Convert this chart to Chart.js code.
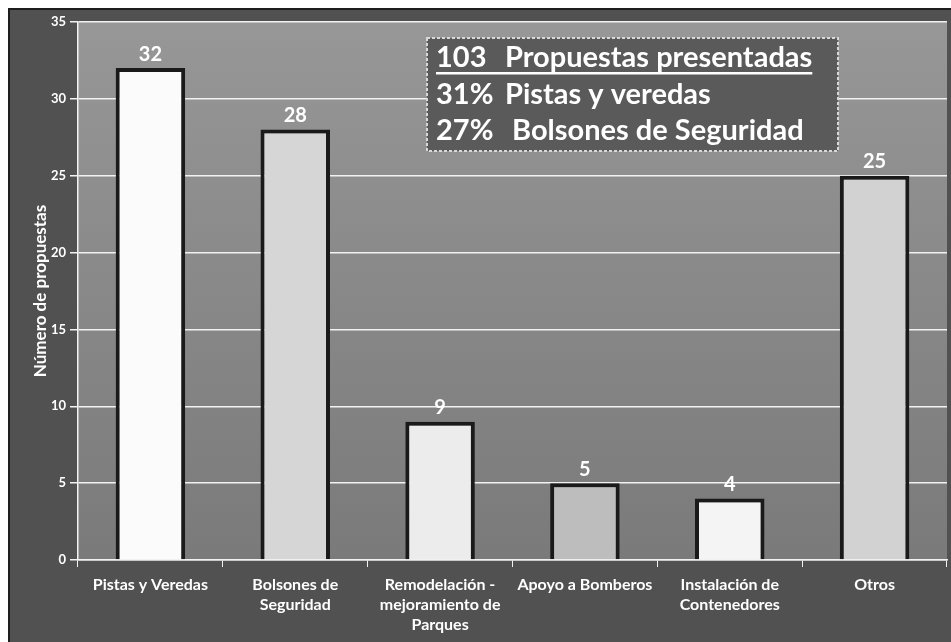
<!DOCTYPE html>
<html lang="es">
<head>
<meta charset="utf-8">
<title>Propuestas por categoría</title>
<script src="https://cdn.jsdelivr.net/npm/chart.js@4.4.1/dist/chart.umd.min.js"></script>
<style>
  html, body { margin: 0; padding: 0; background: #fff; }
  #wrap { width: 951px; height: 642px; position: relative; }
</style>
</head>
<body>
<div id="wrap"><canvas id="grafico"></canvas></div>
<script>
const categorias = [
  'Pistas y Veredas',
  ['Bolsones de', 'Seguridad'],
  ['Remodelación -', 'mejoramiento de', 'Parques'],
  'Apoyo a Bomberos',
  ['Instalación de', 'Contenedores'],
  'Otros'
];
const propuestas = [32, 28, 9, 5, 4, 25];
const coloresBarras = ['#fbfbfb', '#d6d6d6', '#ececec', '#bdbdbd', '#f4f4f4', '#d2d2d2'];
const resumen = [
  ['103', 'Propuestas presentadas'],
  ['31%', 'Pistas y veredas'],
  ['27%', ' Bolsones de Seguridad']
];

const fuente = 'Lato, "Open Sans", sans-serif';

// fondo oscuro exterior y degradado gris del área de trazado
const fondo = {
  id: 'fondo',
  beforeDraw(chart) {
    const { ctx, chartArea: a } = chart;
    ctx.save();
    ctx.fillStyle = '#ffffff';
    ctx.fillRect(0, 0, chart.width, chart.height);
    ctx.fillStyle = '#1e1e1e';
    ctx.fillRect(8, 8, chart.width - 8, chart.height - 8);
    ctx.fillStyle = '#515151';
    ctx.fillRect(10, 10, chart.width - 10, chart.height - 10);
    const g = ctx.createLinearGradient(0, a.top, 0, a.bottom);
    g.addColorStop(0, '#979797');
    g.addColorStop(1, '#7a7a7a');
    ctx.fillStyle = g;
    ctx.fillRect(a.left, a.top, a.right - a.left, a.bottom - a.top);
    ctx.restore();
  }
};

// números sobre cada barra
const etiquetas = {
  id: 'etiquetas',
  afterDatasetsDraw(chart) {
    const { ctx } = chart;
    const meta = chart.getDatasetMeta(0);
    ctx.save();
    ctx.fillStyle = '#ffffff';
    ctx.font = 'bold 20px ' + fuente;
    ctx.textAlign = 'center';
    ctx.textBaseline = 'bottom';
    meta.data.forEach((bar, i) => {
      ctx.fillText(String(propuestas[i]), bar.x, bar.y - 4);
    });
    ctx.restore();
  }
};

// recuadro con el resumen
const recuadro = {
  id: 'recuadro',
  afterDraw(chart) {
    const { ctx } = chart;
    const x = 427, y = 38, w = 411, h = 113;
    ctx.save();
    ctx.fillStyle = '#5a5a5a';
    ctx.fillRect(x, y, w, h);
    ctx.strokeStyle = '#d8d8d8';
    ctx.lineWidth = 2;
    ctx.setLineDash([3, 2]);
    ctx.strokeRect(x, y, w, h);
    ctx.setLineDash([]);
    ctx.fillStyle = '#ffffff';
    ctx.font = 'bold 29px ' + fuente;
    ctx.textBaseline = 'alphabetic';
    const lineas = [67, 104, 140];
    resumen.forEach((fila, i) => {
      ctx.fillText(fila[0], 436, lineas[i]);
      ctx.fillText(fila[1], 505, lineas[i]);
    });
    const fin = 505 + ctx.measureText(resumen[0][1]).width;
    ctx.fillRect(436, 72, fin - 436, 2.5);
    ctx.restore();
  }
};

new Chart(document.getElementById('grafico'), {
  type: 'bar',
  data: {
    labels: categorias,
    datasets: [{
      data: propuestas,
      backgroundColor: coloresBarras,
      borderColor: '#1a1a1a',
      borderWidth: 4,
      borderSkipped: 'bottom',
      categoryPercentage: 1,
      barPercentage: 0.48
    }]
  },
  options: {
    responsive: true,
    maintainAspectRatio: false,
    animation: false,
    layout: { padding: { left: 30, top: 22, right: 4, bottom: 0 } },
    plugins: {
      legend: { display: false },
      tooltip: { enabled: false }
    },
    scales: {
      y: {
        min: 0,
        max: 35,
        ticks: {
          stepSize: 5,
          color: '#ffffff',
          font: { family: fuente, size: 13, weight: 'bold' },
          padding: 4
        },
        grid: { color: '#f2f2f2', lineWidth: 1.5, tickLength: 8, tickColor: '#f2f2f2' },
        border: { color: '#f2f2f2', width: 1.5 },
        title: {
          display: true,
          text: 'Número de propuestas',
          color: '#ffffff',
          font: { family: fuente, size: 17, weight: 'bold' },
          padding: { top: 0, bottom: 0 }
        },
        afterFit(scale) { scale.width = 48; }
      },
      x: {
        ticks: {
          color: '#ffffff',
          font: { family: fuente, size: 16, weight: 'bold', lineHeight: 1.25 },
          maxRotation: 0,
          autoSkip: false,
          padding: 8
        },
        grid: { drawOnChartArea: false, color: '#f2f2f2', tickLength: 7, offset: true },
        border: { color: '#f2f2f2', width: 1.5 },
        afterFit(scale) { scale.height = 82; }
      }
    }
  },
  plugins: [fondo, etiquetas, recuadro]
});
</script>
</body>
</html>
